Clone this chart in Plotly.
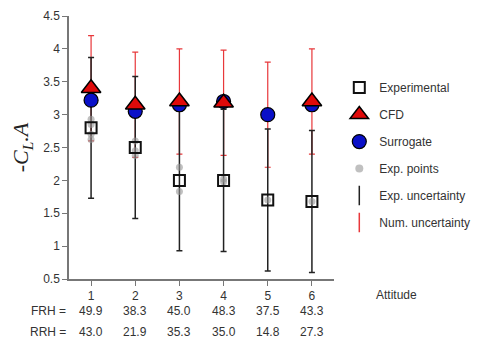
import plotly.graph_objects as go

attitudes = [1, 2, 3, 4, 5, 6]
experimental = [2.8, 2.5, 2.0, 2.0, 1.7, 1.68]
exp_unc = [1.07, 1.08, 1.07, 1.08, 1.08, 1.08]
cfd = [3.4, 3.15, 3.2, 3.18, None, 3.2]
surrogate = [3.22, 3.05, 3.15, 3.2, 3.0, 3.15]
num_center = [3.4, 3.15, 3.2, 3.18, 3.0, 3.2]
num_unc = [0.8, 0.8, 0.8, 0.8, 0.8, 0.8]
exp_pts_x = [1, 1, 1, 1, 2, 2, 2, 3, 3, 4, 4, 5, 6]
exp_pts_y = [2.93, 2.85, 2.7, 2.62, 2.6, 2.45, 2.38, 2.2, 1.83, 2.02, 1.98, 1.7, 1.68]
frh = ["49.9", "38.3", "45.0", "48.3", "37.5", "43.3"]
rrh = ["43.0", "21.9", "35.3", "35.0", "14.8", "27.3"]

TXT = "#333333"
fig = go.Figure()

# numerical uncertainty (red)
fig.add_trace(go.Scatter(
    x=attitudes, y=num_center, mode="markers", marker=dict(size=1, opacity=0),
    error_y=dict(type="data", array=num_unc, color="#e8383b", thickness=1.2, width=3),
    showlegend=False, hoverinfo="skip"))
# experimental uncertainty (black)
fig.add_trace(go.Scatter(
    x=attitudes, y=experimental, mode="markers", marker=dict(size=1, opacity=0),
    error_y=dict(type="data", array=exp_unc, color="#222222", thickness=1.5, width=3),
    showlegend=False, hoverinfo="skip"))
# experimental points
fig.add_trace(go.Scatter(
    x=exp_pts_x, y=exp_pts_y, mode="markers",
    marker=dict(size=7, color="rgba(150,150,150,0.6)"),
    showlegend=False))
fig.add_trace(go.Scatter(
    x=attitudes, y=experimental, mode="markers", name="Experimental",
    legendgroup="a", legendrank=1,
    marker=dict(symbol="square-open", size=11, color="#111111", line=dict(width=2))))
fig.add_trace(go.Scatter(
    x=attitudes, y=surrogate, mode="markers", name="Surrogate",
    legendgroup="c", legendrank=3,
    marker=dict(symbol="circle", size=14, color="#0a10c8", line=dict(width=1.2, color="black"))))
fig.add_trace(go.Scatter(
    x=attitudes, y=cfd, mode="markers", name="CFD",
    legendgroup="b", legendrank=2,
    marker=dict(symbol="triangle-up", size=17, color="#e00a0a", line=dict(width=1.5, color="black"))))
# legend-only entries
fig.add_trace(go.Scatter(
    x=[None], y=[None], mode="markers", name="Exp. points", legendgroup="d", legendrank=4,
    marker=dict(size=8, color="rgba(150,150,150,0.6)")))
fig.add_trace(go.Scatter(
    x=[None], y=[None], mode="markers", name="Exp. uncertainty", legendgroup="e", legendrank=5,
    marker=dict(symbol="line-ns-open", size=14, color="#222222", line=dict(width=1.5, color="#222222"))))
fig.add_trace(go.Scatter(
    x=[None], y=[None], mode="markers", name="Num. uncertainty", legendgroup="f", legendrank=6,
    marker=dict(symbol="line-ns-open", size=14, color="#e8383b", line=dict(width=1.5, color="#e8383b"))))

annotations = []
for i, a in enumerate(attitudes):
    annotations.append(dict(x=a, y=-0.12, xref="x", yref="paper", text=frh[i], showarrow=False,
                            font=dict(size=12, color=TXT), yanchor="middle"))
    annotations.append(dict(x=a, y=-0.2, xref="x", yref="paper", text=rrh[i], showarrow=False,
                            font=dict(size=12, color=TXT), yanchor="middle"))
annotations.append(dict(x=-0.003, y=-0.12, xref="paper", yref="paper", text="FRH =", showarrow=False,
                        xanchor="right", yanchor="middle", font=dict(size=12, color=TXT)))
annotations.append(dict(x=-0.003, y=-0.2, xref="paper", yref="paper", text="RRH =", showarrow=False,
                        xanchor="right", yanchor="middle", font=dict(size=12, color=TXT)))
annotations.append(dict(x=1.15, y=-0.06, xref="paper", yref="paper", text="Attitude", showarrow=False,
                        xanchor="left", yanchor="middle", font=dict(size=12, color=TXT)))

fig.update_layout(
    width=484, height=349,
    margin=dict(l=69, r=137, t=9, b=70),
    plot_bgcolor="white", paper_bgcolor="white",
    font=dict(family="Liberation Sans, Arial, sans-serif", size=12, color=TXT),
    xaxis=dict(range=[0.5, 6.5], tickvals=attitudes, ticks="outside", ticklen=5,
               tickcolor="#777777", showline=True, linecolor="#777777", linewidth=1.5,
               showgrid=False, zeroline=False, tickfont=dict(size=12, color=TXT)),
    yaxis=dict(range=[0.5, 4.5], tickvals=[0.5, 1, 1.5, 2, 2.5, 3, 3.5, 4, 4.5],
               ticktext=["0.5", "1", "1.5", "2", "2.5", "3", "3.5", "4", "4.5"],
               ticks="outside", ticklen=5, tickcolor="#777777",
               showline=True, linecolor="#777777", linewidth=1.5,
               showgrid=False, zeroline=False, tickfont=dict(size=12, color=TXT),
               title=dict(text="-<i>C<sub>L</sub>.A</i>",
                          font=dict(family="Liberation Serif, Times New Roman, serif", size=22, color="#222222"),
                          standoff=8)),
    legend=dict(x=1.02, y=0.783, xanchor="left", yanchor="top", traceorder="grouped",
                tracegroupgap=8, font=dict(size=12, color=TXT), bgcolor="rgba(0,0,0,0)",
                itemsizing="trace"),
    annotations=annotations,
)

fig.write_html("out.html")
